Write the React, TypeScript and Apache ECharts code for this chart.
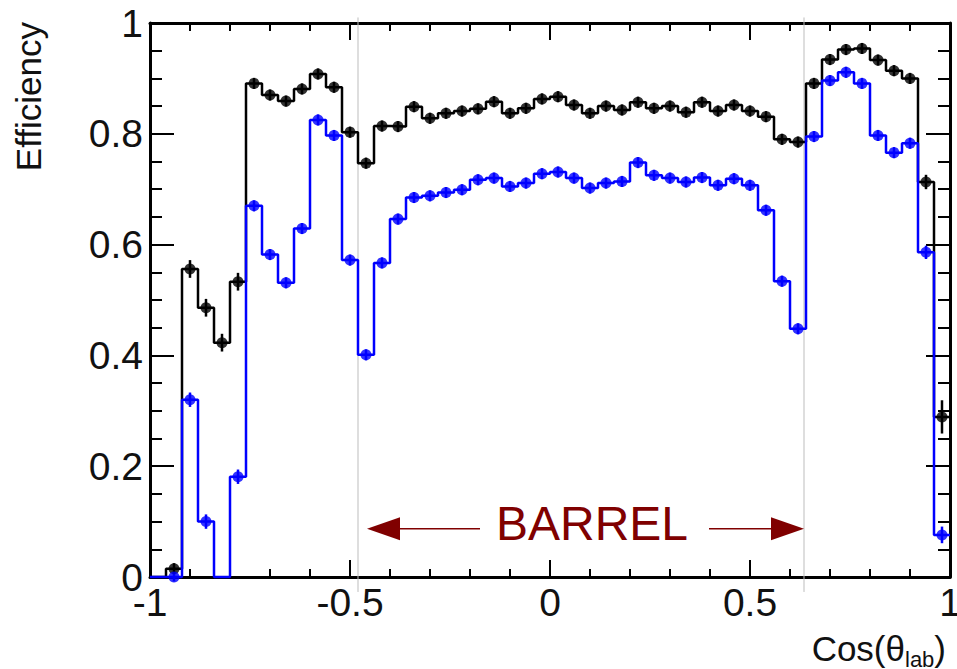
import React, { useEffect, useRef } from "react";
import * as echarts from "echarts";

// ---- histogram binning ----
const N_BINS = 50;
const X_MIN = -1;
const X_MAX = 1;

// ---- data (efficiency per bin, null = empty bin) ----
const blackEff: (number | null)[] = [
  null, 0.015, 0.556, 0.486, 0.423, 0.533, 0.891, 0.870, 0.859, 0.881,
  0.908, 0.884, 0.803, 0.747, 0.814, 0.813, 0.849, 0.828, 0.837, 0.841,
  0.845, 0.858, 0.837, 0.846, 0.863, 0.867, 0.852, 0.837, 0.850, 0.843,
  0.857, 0.846, 0.850, 0.839, 0.857, 0.841, 0.852, 0.841, 0.831, 0.790,
  0.785, 0.891, 0.934, 0.952, 0.954, 0.933, 0.914, 0.900, 0.713, 0.289,
];
const blackErr: number[] = [
  0, 0.01, 0.016, 0.016, 0.016, 0.016, 0.01, 0.01, 0.01, 0.01,
  0.01, 0.01, 0.01, 0.01, 0.01, 0.01, 0.01, 0.01, 0.01, 0.01,
  0.01, 0.01, 0.01, 0.01, 0.01, 0.01, 0.01, 0.01, 0.01, 0.01,
  0.01, 0.01, 0.01, 0.01, 0.01, 0.01, 0.01, 0.01, 0.01, 0.01,
  0.01, 0.01, 0.01, 0.01, 0.01, 0.01, 0.01, 0.01, 0.013, 0.03,
];
const blueEff: (number | null)[] = [
  null, 0, 0.320, 0.100, null, 0.181, 0.670, 0.582, 0.531, 0.629,
  0.825, 0.797, 0.572, 0.401, 0.567, 0.646, 0.685, 0.688, 0.694, 0.699,
  0.717, 0.720, 0.705, 0.711, 0.728, 0.731, 0.720, 0.702, 0.711, 0.714,
  0.748, 0.725, 0.720, 0.713, 0.721, 0.707, 0.719, 0.707, 0.662, 0.534,
  0.448, 0.795, 0.896, 0.911, 0.891, 0.797, 0.766, 0.783, 0.586, 0.076,
];
const blueErr: number[] = [
  0, 0.008, 0.013, 0.013, 0, 0.013, 0.01, 0.01, 0.01, 0.01,
  0.01, 0.01, 0.01, 0.01, 0.01, 0.01, 0.01, 0.01, 0.01, 0.01,
  0.01, 0.01, 0.01, 0.01, 0.01, 0.01, 0.01, 0.01, 0.01, 0.01,
  0.01, 0.01, 0.01, 0.01, 0.01, 0.01, 0.01, 0.01, 0.01, 0.01,
  0.01, 0.01, 0.01, 0.01, 0.01, 0.01, 0.01, 0.01, 0.012, 0.015,
];

// ---- axes ----
const xTickValues = [-1, -0.5, 0, 0.5, 1];
const xTickLabels = ["-1", "-0.5", "0", "0.5", "1"];
const yTickValues = [0, 0.2, 0.4, 0.6, 0.8, 1];
const yTickLabels = ["0", "0.2", "0.4", "0.6", "0.8", "1"];
const xTitleMain = "Cos(θ";
const xTitleSub = "lab";
const yTitle = "Efficiency";

// ---- annotation ----
const barrelLines = [-0.48, 0.635];
const barrelText = "BARREL";
const barrelTextPos = [0.105, 0.096];
const arrowY = 0.087;
const leftArrow = { tail: -0.175, tip: -0.4575 };
const rightArrow = { tail: 0.3975, tip: 0.635 };

const FONT = "Liberation Sans, Arial, Helvetica, sans-serif";
const BLACK = "#000000";
const BLUE = "#0000ff";
const DARKRED = "#800000";

const bw = (X_MAX - X_MIN) / N_BINS;
const binCenter = (i: number) => X_MIN + bw * (i + 0.5);

function stepData(vals: (number | null)[]) {
  const d: number[][] = [];
  vals.forEach((v, i) => {
    const y = v == null ? 0 : v;
    d.push([X_MIN + bw * i, y], [X_MIN + bw * (i + 1), y]);
  });
  return d;
}
function markerData(vals: (number | null)[], errs: number[]) {
  const d: number[][] = [];
  vals.forEach((v, i) => {
    if (v != null) d.push([binCenter(i), v, errs[i]]);
  });
  return d;
}

function errSeries(vals: (number | null)[], errs: number[], color: string) {
  return {
    type: "custom",
    data: markerData(vals, errs),
    encode: { x: 0, y: 1 },
    z: 3,
    clip: false,
    silent: true,
    renderItem: (_p: any, api: any) => {
      const x = api.value(0);
      const y = api.value(1);
      const e = api.value(2);
      const a = api.coord([x, y - e]);
      const b = api.coord([x, y + e]);
      return {
        type: "line",
        shape: { x1: a[0], y1: a[1], x2: b[0], y2: b[1] },
        style: { stroke: color, lineWidth: 2.5 },
      };
    },
  };
}

function xAxisCfg(pos: "bottom" | "top", labels: boolean) {
  return {
    type: "value",
    min: X_MIN,
    max: X_MAX,
    interval: 0.5,
    position: pos,
    axisLine: { show: true, onZero: false, lineStyle: { color: "#000", width: 3 } },
    axisTick: { show: true, inside: true, length: 17, lineStyle: { color: "#000", width: 2 } },
    minorTick: { show: true, splitNumber: 5, length: 8, lineStyle: { color: "#000", width: 2 } },
    splitLine: { show: false },
    minorSplitLine: { show: false },
    axisLabel: {
      show: labels,
      fontSize: 39,
      fontFamily: FONT,
      color: "#111",
      margin: 6,
      formatter: (v: number) => {
        const k = xTickValues.findIndex((t) => Math.abs(t - v) < 1e-9);
        return k >= 0 ? xTickLabels[k] : "";
      },
    },
  };
}
function yAxisCfg(pos: "left" | "right", labels: boolean) {
  return {
    type: "value",
    min: 0,
    max: 1,
    interval: 0.2,
    position: pos,
    axisLine: { show: true, onZero: false, lineStyle: { color: "#000", width: 3 } },
    axisTick: { show: true, inside: true, length: 24, lineStyle: { color: "#000", width: 2 } },
    minorTick: { show: true, splitNumber: 4, length: 12, lineStyle: { color: "#000", width: 2 } },
    splitLine: { show: false },
    minorSplitLine: { show: false },
    axisLabel: {
      show: labels,
      fontSize: 39,
      fontFamily: FONT,
      color: "#111",
      margin: 7,
      formatter: (v: number) => {
        const k = yTickValues.findIndex((t) => Math.abs(t - v) < 1e-9);
        return k >= 0 ? yTickLabels[k] : "";
      },
    },
  };
}

export default function App() {
  const ref = useRef<HTMLDivElement>(null);
  useEffect(() => {
    if (!ref.current) return;
    const chart = echarts.init(ref.current, null, { renderer: "svg" });
    chart.setOption({
      animation: false,
      backgroundColor: "#ffffff",
      grid: {
        left: 150,
        right: 7,
        top: 23,
        bottom: 92,
        containLabel: false,
        outerBoundsMode: "none",
      },
      xAxis: [xAxisCfg("bottom", true), xAxisCfg("top", false)],
      yAxis: [yAxisCfg("left", true), yAxisCfg("right", false)],
      series: [
        {
          type: "line",
          data: stepData(blackEff),
          showSymbol: false,
          symbol: "none",
          clip: false,
          lineStyle: { color: BLACK, width: 2.5 },
          z: 2,
          silent: true,
        },
        {
          type: "line",
          data: stepData(blueEff),
          showSymbol: false,
          symbol: "none",
          clip: false,
          lineStyle: { color: BLUE, width: 2.5 },
          z: 2,
          silent: true,
        },
        errSeries(blackEff, blackErr, BLACK),
        errSeries(blueEff, blueErr, BLUE),
        {
          type: "scatter",
          data: markerData(blackEff, blackErr).map((p) => [p[0], p[1]]),
          symbol: "circle",
          symbolSize: 11,
          itemStyle: { color: BLACK },
          clip: false,
          z: 4,
          silent: true,
        },
        {
          type: "scatter",
          data: markerData(blueEff, blueErr).map((p) => [p[0], p[1]]),
          symbol: "circle",
          symbolSize: 11,
          itemStyle: { color: BLUE },
          clip: false,
          z: 4,
          silent: true,
        },
      ],
    });

    const px = (x: number, y: number) =>
      chart.convertToPixel({ xAxisIndex: 0, yAxisIndex: 0 }, [x, y]) as number[];

    const graphics: any[] = [];
    barrelLines.forEach((bx) => {
      const a = px(bx, 1.01);
      const b = px(bx, -0.027);
      graphics.push({
        type: "line",
        z: 1,
        silent: true,
        shape: { x1: a[0], y1: a[1], x2: b[0], y2: b[1] },
        style: { stroke: "#bdbdbd", lineWidth: 1 },
      });
    });
    const arrow = (tail: number, tip: number) => {
      const t = px(tail, arrowY);
      const h = px(tip, arrowY);
      const dir = h[0] > t[0] ? 1 : -1;
      const headLen = 33;
      const halfH = 11.5;
      const base = h[0] - dir * headLen;
      graphics.push({
        type: "line",
        z: 10,
        silent: true,
        shape: { x1: t[0], y1: t[1], x2: base, y2: h[1] },
        style: { stroke: DARKRED, lineWidth: 1.5 },
      });
      graphics.push({
        type: "polygon",
        z: 10,
        silent: true,
        shape: { points: [[h[0], h[1]], [base, h[1] - halfH], [base, h[1] + halfH]] },
        style: { fill: DARKRED },
      });
    };
    arrow(leftArrow.tail, leftArrow.tip);
    arrow(rightArrow.tail, rightArrow.tip);
    const tp = px(barrelTextPos[0], barrelTextPos[1]);
    graphics.push({
      type: "text",
      z: 10,
      silent: true,
      x: tp[0],
      y: tp[1],
      style: {
        text: barrelText,
        fontSize: 48,
        fontFamily: FONT,
        fill: DARKRED,
        align: "center",
        verticalAlign: "middle",
      },
    });
    // axis titles
    graphics.push({
      type: "text",
      z: 10,
      silent: true,
      x: 28,
      y: 22,
      rotation: Math.PI / 2,
      style: {
        text: yTitle,
        fontSize: 35,
        fontFamily: FONT,
        fill: "#111",
        align: "right",
        verticalAlign: "middle",
      },
    });
    graphics.push({
      type: "text",
      z: 10,
      silent: true,
      x: 946,
      y: 648,
      style: {
        text: "{a|" + xTitleMain + "}{b|" + xTitleSub + "}{a|)}",
        align: "right",
        verticalAlign: "middle",
        fill: "#111",
        fontFamily: FONT,
        fontSize: 35,
        rich: {
          a: { fontSize: 35, lineHeight: 44, fontFamily: FONT, fill: "#111", verticalAlign: "middle" },
          b: { fontSize: 22, lineHeight: 22, fontFamily: FONT, fill: "#111", verticalAlign: "bottom" },
        },
      },
    });
    chart.setOption({ graphic: graphics });

    return () => chart.dispose();
  }, []);
  return (
    <div
      ref={ref}
      style={{ position: "fixed", left: 0, top: 0, width: 957, height: 669, background: "#fff" }}
    />
  );
}
